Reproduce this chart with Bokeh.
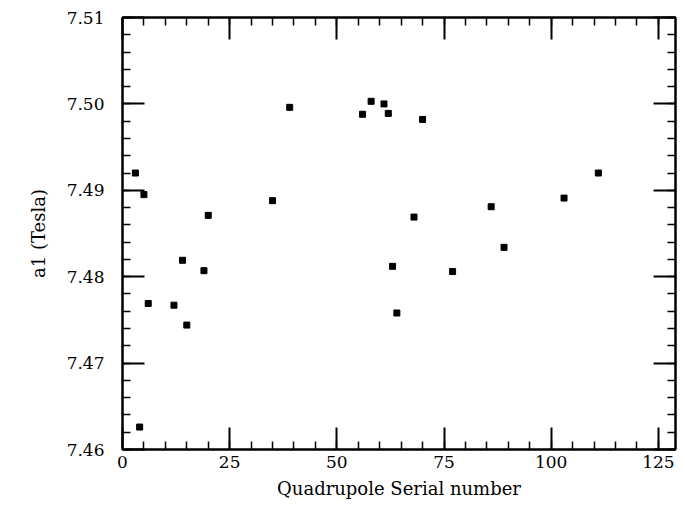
from bokeh.plotting import figure
from bokeh.models import FixedTicker, PrintfTickFormatter, LinearAxis, ColumnDataSource, CustomJSTickFormatter
from bokeh.embed import file_html
from bokeh.resources import INLINE

# Data
serial = [3, 4, 5, 6, 12, 14, 15, 19, 20, 35, 39, 56, 58, 61, 62, 63, 64, 68, 70, 77, 86, 89, 103, 111]
a1 = [7.4920, 7.4626, 7.4895, 7.4769, 7.4767, 7.4819, 7.4744, 7.4807, 7.4871, 7.4888, 7.4996,
      7.4988, 7.5003, 7.5000, 7.4989, 7.4812, 7.4758, 7.4869, 7.4982, 7.4806, 7.4881, 7.4834,
      7.4891, 7.4920]

x_major = [0, 25, 50, 75, 100, 125]
x_minor = [v for v in range(0, 130, 5)]
y_major = [7.46, 7.47, 7.48, 7.49, 7.50, 7.51]
y_minor = [round(7.46 + 0.002 * i, 3) for i in range(26)]

FONT = "DejaVu Serif"

p = figure(width=684, height=506, x_range=(0, 129), y_range=(7.46, 7.51),
           output_backend="svg", toolbar_location=None,
           min_border_left=122, min_border_right=9, min_border_top=17, min_border_bottom=57)
p.background_fill_color = "white"
p.border_fill_color = "white"
p.grid.visible = False
p.outline_line_color = "black"
p.outline_line_width = 2

src = ColumnDataSource(dict(x=serial, y=a1))
p.scatter("x", "y", source=src, marker="square", size=6, color="black")

def style(ax, ticks, minor, labels=True):
    ax.ticker = FixedTicker(ticks=ticks, minor_ticks=minor)
    ax.axis_line_color = "black"
    ax.axis_line_width = 2
    ax.major_tick_in = 22
    ax.major_tick_out = 0
    ax.minor_tick_in = 8
    ax.minor_tick_out = 0
    ax.major_tick_line_width = 2
    ax.minor_tick_line_width = 1.5
    ax.major_tick_line_color = "black"
    ax.minor_tick_line_color = "black"
    if labels:
        ax.major_label_text_font = FONT
        ax.major_label_text_font_size = "17px"
        ax.major_label_text_color = "black"
        ax.axis_label_text_font = FONT
        ax.axis_label_text_font_size = "18px"
        ax.axis_label_text_font_style = "normal"
        ax.axis_label_text_color = "black"
    else:
        ax.formatter = CustomJSTickFormatter(code="return '';")
        ax.major_label_standoff = 0

xa = p.xaxis[0]
style(xa, x_major, x_minor)
xa.axis_label = "Quadrupole Serial number"
xa.major_label_standoff = 6
xa.axis_label_standoff = 7

ya = p.yaxis[0]
style(ya, y_major, y_minor)
ya.formatter = PrintfTickFormatter(format="%.2f")
ya.axis_label = "a1 (Tesla)"
ya.major_label_standoff = 18
ya.axis_label_standoff = 15

top = LinearAxis()
style(top, x_major, x_minor, labels=False)
p.add_layout(top, "above")

right = LinearAxis()
style(right, y_major, y_minor, labels=False)
p.add_layout(right, "right")

open("out.html", "w").write(file_html(p, INLINE))
